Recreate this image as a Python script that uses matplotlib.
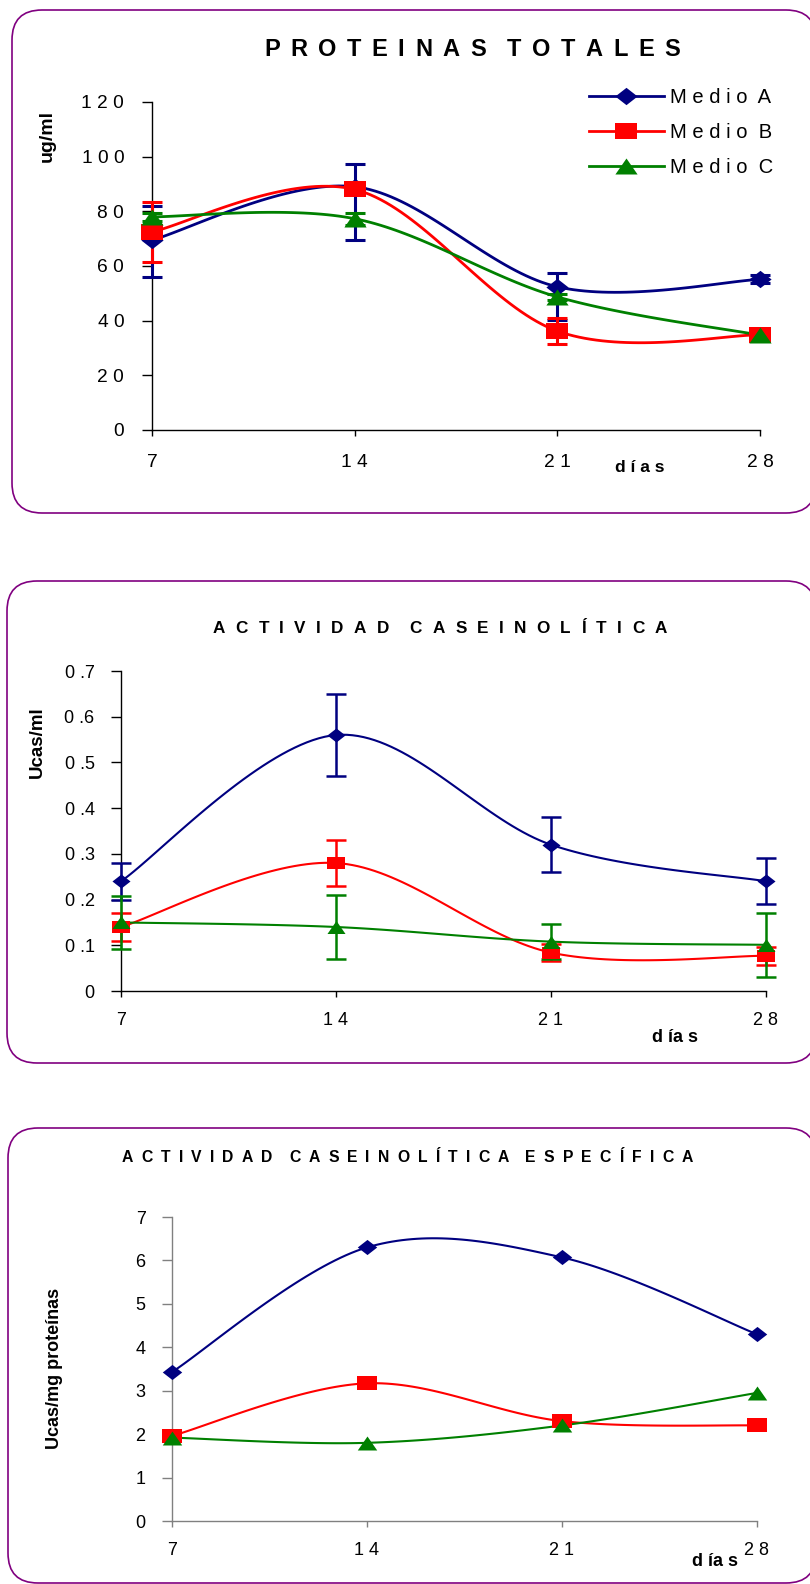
import matplotlib
matplotlib.use("Agg")
import matplotlib.pyplot as plt
import numpy as np
from matplotlib.path import Path
from matplotlib.patches import FancyBboxPatch

# ---- data ----
dias = [7, 14, 21, 28]
series_names = ["Medio A", "Medio B", "Medio C"]
legend_labels = ["M e d i o  A", "M e d i o  B", "M e d i o  C"]

# proteinas totales (ug/ml)
prot_a = [69.5, 89, 52.4, 55.1]
prot_b = [72.5, 88, 36.2, 34.8]
prot_c = [78, 77.3, 48.7, 34.7]
prot_a_lo = [13.5, 19.5, 12.2, 1.4]
prot_a_hi = [12.5, 8.5, 5.1, 1.5]
prot_b_err = [11, 1, 4.6, 1]
prot_c_err = [1.5, 2.2, 1, 1]

# actividad caseinolitica (Ucas/ml)
cas_a = [0.24, 0.56, 0.32, 0.24]
cas_b = [0.14, 0.28, 0.084, 0.077]
cas_c = [0.15, 0.14, 0.108, 0.101]
cas_a_err = [0.04, 0.09, 0.06, 0.05]
cas_b_err = [0.03, 0.05, 0.019, 0.02]
cas_c_err = [0.058, 0.071, 0.038, 0.07]

# actividad caseinolitica especifica (Ucas/mg proteinas)
esp_a = [3.43, 6.3, 6.07, 4.3]
esp_b = [1.96, 3.17, 2.3, 2.2]
esp_c = [1.92, 1.8, 2.2, 2.95]

xtick_labels = ["7", "1 4", "2 1", "2 8"]
prot_ticks = [0, 20, 40, 60, 80, 100, 120]
prot_tick_labels = ["0", "2 0", "4 0", "6 0", "8 0", "1 0 0", "1 2 0"]
cas_ticks = [0, 0.1, 0.2, 0.3, 0.4, 0.5, 0.6, 0.7]
cas_tick_labels = ["0", "0 .1", "0 .2", "0 .3", "0 .4", "0 .5", "0 .6", "0 .7"]
esp_ticks = [0, 1, 2, 3, 4, 5, 6, 7]
esp_tick_labels = ["0", "1", "2", "3", "4", "5", "6", "7"]

colors = ["#000080", "#FF0000", "#008000"]
ARIAL = ["Liberation Sans", "DejaVu Sans"]

W, H = 810, 1584


# squat excel-like markers
def mk(verts):
    v = list(verts) + [verts[0]]
    codes = [Path.MOVETO] + [Path.LINETO] * (len(verts) - 1) + [Path.CLOSEPOLY]
    return Path(v, codes)


diamond = mk([(-1, 0), (0, 0.78), (1, 0), (0, -0.78)])
square = mk([(-1, -0.7), (1, -0.7), (1, 0.7), (-1, 0.7)])
triangle = mk([(-1, -0.72), (1, -0.72), (0, 0.72)])
markers = [diamond, square, triangle]


def smooth(x, y, n=40):
    # excel style smoothed line (bezier through the points)
    p = np.column_stack([x, y]).astype(float)
    p = np.vstack([p[0], p, p[-1]])
    t = np.linspace(0, 1, n)[:, None]
    out = []
    for i in range(1, len(p) - 2):
        p0, p1 = p[i], p[i + 1]
        c1 = p0 + (p[i + 1] - p[i - 1]) / 6
        c2 = p1 - (p[i + 2] - p[i]) / 6
        seg = (1 - t) ** 3 * p0 + 3 * (1 - t) ** 2 * t * c1 + 3 * (1 - t) * t ** 2 * c2 + t ** 3 * p1
        out.append(seg if i == 1 else seg[1:])
    s = np.vstack(out)
    return s[:, 0], s[:, 1]


def px_axes(fig, left, right, top, bottom):
    return fig.add_axes([left / W, 1 - bottom / H, (right - left) / W, (bottom - top) / H])


def style_axes(ax, ticks, labels, ymax, axcolor, fs, pad_y, pad_x):
    ax.set_xlim(7, 28)
    ax.set_ylim(0, ymax)
    ax.set_xticks(dias)
    ax.set_xticklabels(xtick_labels, family=ARIAL, fontsize=fs)
    ax.set_yticks(ticks)
    ax.set_yticklabels(labels, family=ARIAL, fontsize=fs)
    for s in ["top", "right"]:
        ax.spines[s].set_visible(False)
    for s in ["left", "bottom"]:
        ax.spines[s].set_color(axcolor)
        ax.spines[s].set_linewidth(1.0)
    ax.tick_params(axis="y", direction="out", length=7, width=1.0, color=axcolor, pad=pad_y)
    ax.tick_params(axis="x", direction="out", length=4, width=1.0, color=axcolor, pad=pad_x)
    ax.patch.set_alpha(0)


def draw_series(ax, ys, errs, lw, ms, elw, cap):
    for i, y in enumerate(ys):
        sx, sy = smooth(dias, y)
        ax.plot(sx, sy, color=colors[i], lw=lw, zorder=3, clip_on=False)
        if errs is not None and errs[i] is not None:
            ax.errorbar(dias, y, yerr=errs[i], fmt="none", ecolor=colors[i],
                        elinewidth=elw, capsize=cap, capthick=elw, zorder=4, clip_on=False)
        ax.plot(dias, y, ls="none", marker=markers[i], ms=ms, color=colors[i],
                mec=colors[i], mew=0, zorder=5, clip_on=False, label=series_names[i])


fig = plt.figure(figsize=(W / 100, H / 100), dpi=100)

bg = fig.add_axes([0, 0, 1, 1])
bg.set_xlim(0, W)
bg.set_ylim(H, 0)
bg.axis("off")
for (l, t, r, b) in [(12, 10, 816, 513), (7, 581, 816, 1063), (8, 1128, 816, 1583)]:
    bg.add_patch(FancyBboxPatch((l, t), r - l, b - t, boxstyle="round,pad=0,rounding_size=30",
                                fc="white", ec="#800080", lw=1.2))


def tracked(x0, x1, baseline, s, fs):
    # letter-spaced bold title spread between x0 and x1 (pixels)
    r = fig.canvas.get_renderer()
    ws = []
    for ch in s:
        if ch == " ":
            ws.append(None)
            continue
        t = bg.text(0, 0, ch, fontsize=fs, fontweight="bold", family=ARIAL)
        ws.append(t.get_window_extent(r).width)
        t.remove()
    letters = [w for w in ws if w is not None]
    gap = (x1 - x0 - sum(letters)) / (len(letters) - 1 + s.count(" "))
    x = x0
    for ch, w in zip(s, ws):
        if w is None:
            x += gap
            continue
        bg.text(x, baseline, ch, fontsize=fs, fontweight="bold", family=ARIAL,
                ha="left", va="baseline")
        x += w + gap


# ---- panel 1 ----
ax1 = px_axes(fig, 152, 760, 102, 430)
style_axes(ax1, prot_ticks, prot_tick_labels, 120, "black", 13.8, 13, 13)
draw_series(ax1, [prot_a, prot_b, prot_c],
            [[prot_a_lo, prot_a_hi], prot_b_err, prot_c_err], 2.0, 16, 2.2, 7.5)
leg = ax1.legend(loc="upper left", bbox_to_anchor=(589 / W, 1 - 88 / H),
                 bbox_transform=fig.transFigure, frameon=False, handlelength=3.7,
                 handletextpad=0.3, labelspacing=0.8, prop={"family": ARIAL, "size": 14.5},
                 borderaxespad=0, borderpad=0)
for txt, lab in zip(leg.get_texts(), legend_labels):
    txt.set_text(lab)
for h in leg.legend_handles:
    h.set_linestyle("-")
    h.set_linewidth(2.0)
tracked(264, 680, 56, "PROTEINAS TOTALES", 17)
bg.text(47, 136, "ug/ml", rotation=90, ha="center", va="center", fontsize=14,
        fontweight="bold", family=ARIAL)
bg.text(640, 467, "d í a s", ha="center", va="center", fontsize=12.5,
        fontweight="bold", family=ARIAL)

# ---- panel 2 ----
ax2 = px_axes(fig, 121, 766, 671, 991)
style_axes(ax2, cas_ticks, cas_tick_labels, 0.7, "black", 13, 12, 11)
draw_series(ax2, [cas_a, cas_b, cas_c], [cas_a_err, cas_b_err, cas_c_err], 1.5, 13, 1.8, 7)
tracked(213, 667, 633, "ACTIVIDAD CASEINOLÍTICA", 12.3)
bg.text(37, 742, "Ucas/ml", rotation=90, ha="center", va="center", fontsize=13.5,
        fontweight="bold", family=ARIAL)
bg.text(675, 1037, "d ía s", ha="center", va="center", fontsize=13,
        fontweight="bold", family=ARIAL)

# ---- panel 3 ----
ax3 = px_axes(fig, 172, 757, 1217, 1521)
style_axes(ax3, esp_ticks, esp_tick_labels, 7, "#808080", 13, 12, 11)
draw_series(ax3, [esp_a, esp_b, esp_c], None, 1.5, 14, 1.5, 7)
tracked(122, 693, 1162, "ACTIVIDAD CASEINOLÍTICA ESPECÍFICA", 11.3)
bg.text(55, 1368, "Ucas/mg proteínas", rotation=90, ha="center", va="center", fontsize=13,
        fontweight="bold", family=ARIAL)
bg.text(715, 1562, "d ía s", ha="center", va="center", fontsize=13,
        fontweight="bold", family=ARIAL)

fig.savefig("out.png", dpi=100)
